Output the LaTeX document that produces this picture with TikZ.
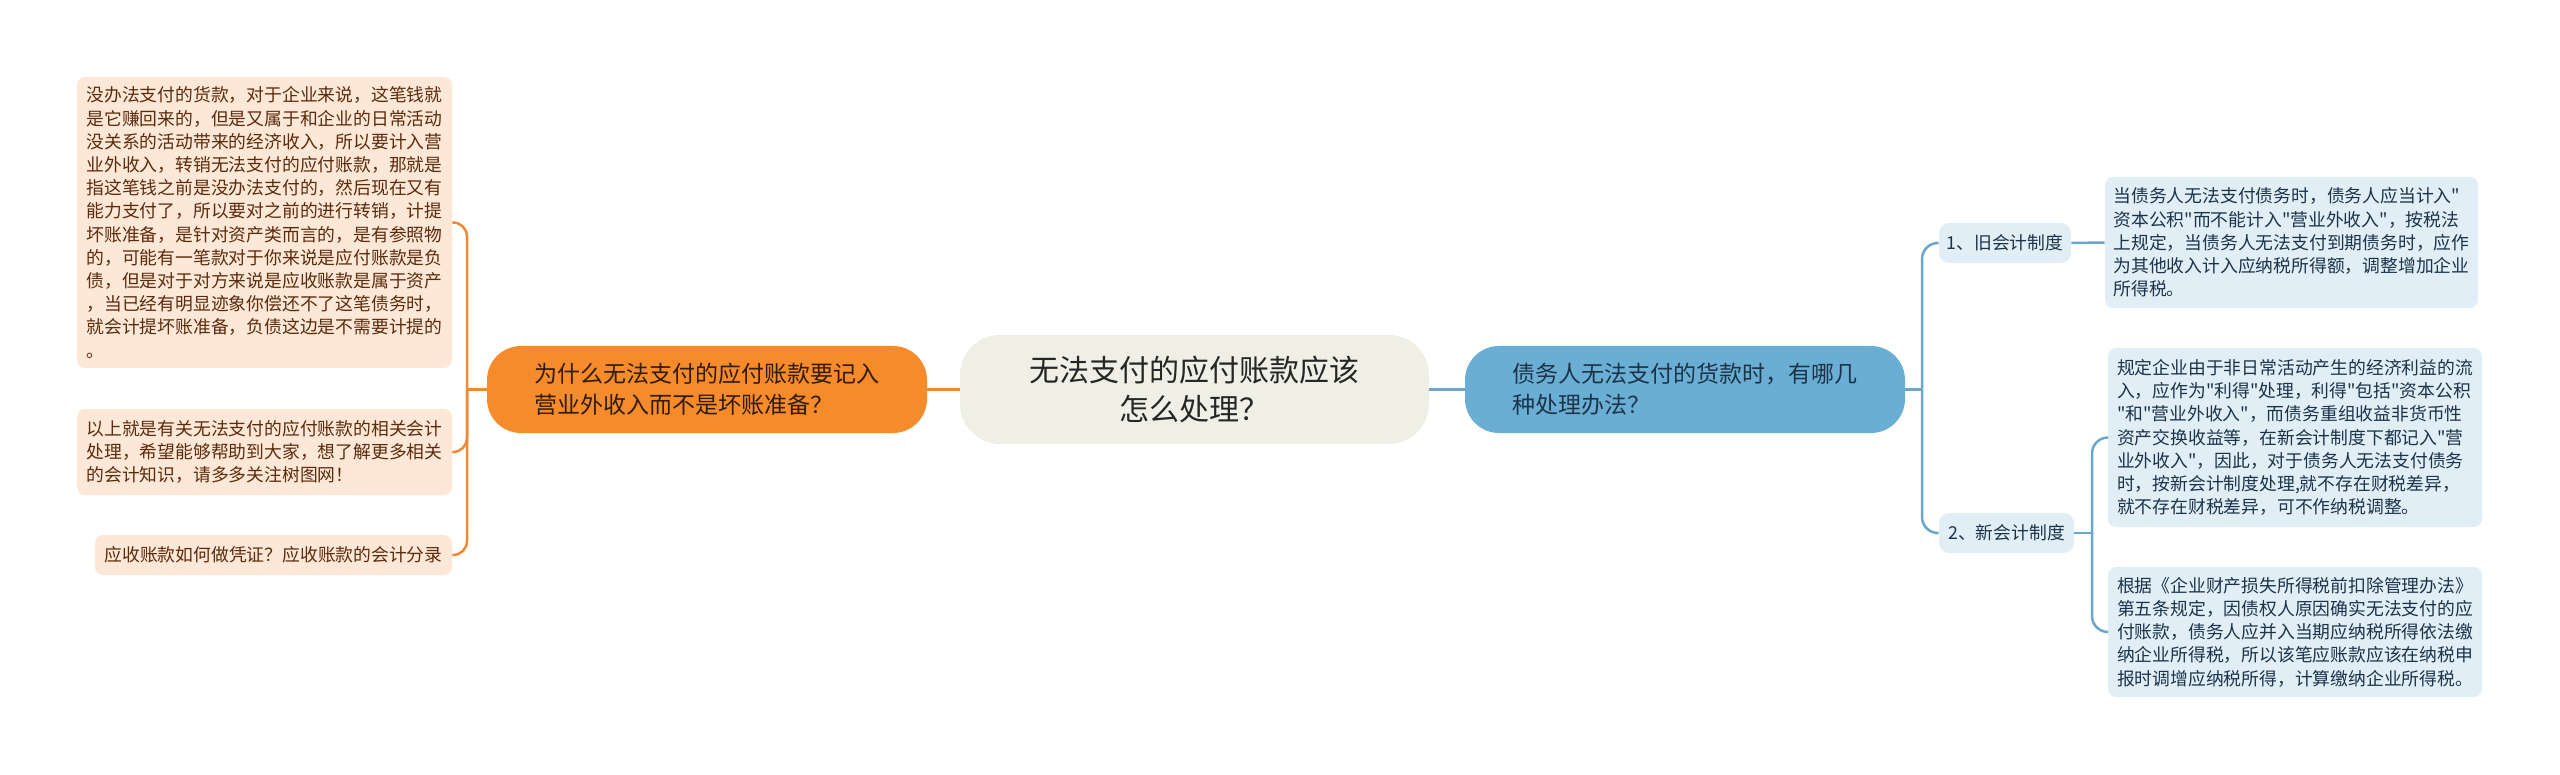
\documentclass[tikz,border=0pt]{standalone}
\usepackage{fontspec}
\setmainfont{Noto Sans CJK SC}
\setmonofont{Noto Sans CJK SC}
\renewcommand\familydefault{\ttdefault}

\definecolor{orangefill}{HTML}{F68B2B}
\definecolor{orangeline}{HTML}{EF8A33}
\definecolor{peach}{HTML}{FDE7D6}
\definecolor{browntext}{HTML}{5A2C0E}
\definecolor{rootfill}{HTML}{EFEFE6}
\definecolor{bluefill}{HTML}{6BAED3}
\definecolor{blueline}{HTML}{6AA7C8}
\definecolor{paleblue}{HTML}{E2EEF6}
\definecolor{navytext}{HTML}{1B3449}

\tikzset{
  root/.style={fill=rootfill, text=black!85, rounded corners=20pt, align=center,
    minimum width=234.5pt, minimum height=54.5pt, inner sep=0pt,
    font=\fontsize{15}{19.5}\selectfont},
  branch/.style={rounded corners=17pt, align=left, minimum width=220pt,
    minimum height=43.5pt, inner sep=0pt, font=\fontsize{11.5}{15.5}\selectfont},
  leftbox/.style={fill=peach, text=browntext, rounded corners=4pt, align=left,
    inner sep=0pt, font=\fontsize{8.9}{11.6}\selectfont},
  rightbox/.style={fill=paleblue, text=navytext, rounded corners=4pt, align=left,
    inner sep=0pt, font=\fontsize{8.9}{11.6}\selectfont},
  oline/.style={draw=orangeline, line width=1.25pt, rounded corners=7pt},
  bline/.style={draw=blueline, line width=1.25pt, rounded corners=8pt}
}

\begin{document}
\begin{tikzpicture}[x=0.5pt, y=-0.5pt]
	\useasboundingbox (0,0) rectangle (2560,775);
	
	\node[root] (root) at (1194.5, 389.5) {无法支付的应付账款应该\\怎么处理？};
	\node[branch, fill=orangefill, text=black!80!orangefill] (why) at (707, 389.5)
	{为什么无法支付的应付账款要记入\\营业外收入而不是坏账准备？};
	\node[branch, fill=bluefill, text=navytext] (how) at (1685, 389.5)
	{债务人无法支付的货款时，有哪几\\种处理办法？};
	
	\node[leftbox, minimum width=187.5pt, minimum height=145.5pt] (expl) at (264.5, 222.5)
	{没办法支付的货款，对于企业来说，这笔钱就\\是它赚回来的，但是又属于和企业的日常活动\\没关系的活动带来的经济收入，所以要计入营\\业外收入，转销无法支付的应付账款，那就是\\指这笔钱之前是没办法支付的，然后现在又有\\能力支付了，所以要对之前的进行转销，计提\\坏账准备，是针对资产类而言的，是有参照物\\的，可能有一笔款对于你来说是应付账款是负\\债，但是对于对方来说是应收账款是属于资产\\，当已经有明显迹象你偿还不了这笔债务时，\\就会计提坏账准备，负债这边是不需要计提的\\。};
	\node[leftbox, minimum width=187.5pt, minimum height=43pt] (summ) at (264.5, 452)
	{以上就是有关无法支付的应付账款的相关会计\\处理，希望能够帮助到大家，想了解更多相关\\的会计知识，请多多关注树图网！};
	\node[leftbox, minimum width=178.5pt, minimum height=20pt] (link) at (273.5, 555)
	{应收账款如何做凭证？应收账款的会计分录};
	
	\node[rightbox, rounded corners=5pt, minimum width=66pt, minimum height=20pt] (old) at (2005, 243) {1、旧会计制度};
	\node[rightbox, rounded corners=5pt, minimum width=67.5pt, minimum height=20pt] (new) at (2006.5, 533) {2、新会计制度};
	
	\node[rightbox, minimum width=186.5pt, minimum height=65.5pt] (oldtxt) at (2291.5, 242.5)
	{当债务人无法支付债务时，债务人应当计入"\\资本公积"而不能计入"营业外收入"，按税法\\上规定，当债务人无法支付到期债务时，应作\\为其他收入计入应纳税所得额，调整增加企业\\所得税。};
	\node[rightbox, minimum width=187pt, minimum height=89.5pt] (newtxt) at (2295, 437.5)
	{规定企业由于非日常活动产生的经济利益的流\\入，应作为"利得"处理，利得"包括"资本公积\\"和"营业外收入"，而债务重组收益非货币性\\资产交换收益等，在新会计制度下都记入"营\\业外收入"，因此，对于债务人无法支付债务\\时，按新会计制度处理,就不存在财税差异，\\就不存在财税差异，可不作纳税调整。};
	\node[rightbox, minimum width=187pt, minimum height=65pt] (lawtxt) at (2295, 632)
	{根据《企业财产损失所得税前扣除管理办法》\\第五条规定，因债权人原因确实无法支付的应\\付账款，债务人应并入当期应纳税所得依法缴\\纳企业所得税，所以该笔应账款应该在纳税申\\报时调增应纳税所得，计算缴纳企业所得税。};
	
	\coordinate (lspine) at (467, 389.5);
	\coordinate (rspine) at (1922, 389.5);
	\coordinate (nspine) at (2092, 533);
	
	\path[oline] (root.west) edge (why.east);
	\path[bline] (root.east) edge (how.west);
	
	\draw[oline] (why.west) -- (lspine);
	\draw[oline] (lspine) |- (expl.east);
	\draw[oline] (lspine) |- (summ.east);
	\draw[oline] (lspine) |- (link.east);
	
	\draw[bline] (how.east) -- (rspine);
	\draw[bline] (rspine) |- (old.west);
	\draw[bline] (rspine) |- (new.west);
	\draw[bline] (old.east) -- (oldtxt.west);
	\draw[bline] (new.east) -- (nspine);
	\draw[bline] (nspine) |- (newtxt.west);
	\draw[bline] (nspine) |- (lawtxt.west);
	
\end{tikzpicture}
\end{document}
